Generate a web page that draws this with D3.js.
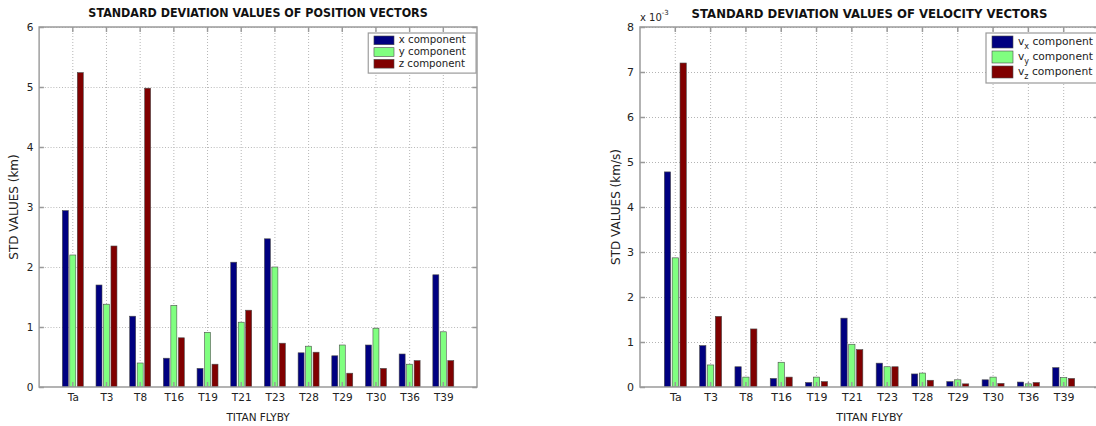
<!DOCTYPE html>
<html>
<head>
<meta charset="utf-8">
<script src="https://cdn.jsdelivr.net/npm/d3@7"></script>
<style>
  html, body { margin: 0; padding: 0; background: #fff; }
  svg { display: block; font-family: "DejaVu Sans", Verdana, sans-serif; }
</style>
</head>
<body>
<svg id="fig" width="1096" height="426"></svg>
<script>
// Titan flybys
const flybys = ["Ta", "T3", "T8", "T16", "T19", "T21", "T23", "T28", "T29", "T30", "T36", "T39"];

// Standard deviation of position components (km)
const posX = [2.94, 1.70, 1.18, 0.48, 0.31, 2.08, 2.47, 0.57, 0.52, 0.70, 0.55, 1.87];
const posY = [2.20, 1.38, 0.40, 1.36, 0.91, 1.08, 2.00, 0.68, 0.70, 0.98, 0.38, 0.92];
const posZ = [5.24, 2.35, 4.98, 0.82, 0.38, 1.28, 0.73, 0.58, 0.23, 0.31, 0.44, 0.44];

// Standard deviation of velocity components (km/s)
const velX = [4.78e-3, 0.92e-3, 0.45e-3, 0.19e-3, 0.10e-3, 1.53e-3, 0.53e-3, 0.29e-3, 0.12e-3, 0.16e-3, 0.11e-3, 0.43e-3];
const velY = [2.87e-3, 0.49e-3, 0.22e-3, 0.55e-3, 0.22e-3, 0.95e-3, 0.45e-3, 0.31e-3, 0.16e-3, 0.22e-3, 0.07e-3, 0.21e-3];
const velZ = [7.20e-3, 1.57e-3, 1.29e-3, 0.22e-3, 0.12e-3, 0.83e-3, 0.45e-3, 0.15e-3, 0.07e-3, 0.08e-3, 0.10e-3, 0.19e-3];

// Axis ticks
const posTicks = [0, 1, 2, 3, 4, 5, 6];
const velTicks = [0, 1e-3, 2e-3, 3e-3, 4e-3, 5e-3, 6e-3, 7e-3, 8e-3];

const seriesColors = ["#000080", "#80ff80", "#800000"];

const svg = d3.select("#fig");

function drawPanel(opt) {
  // each panel is laid out at the same nominal size; hScale narrows the left one
  const g = svg.append("g").attr("transform", `scale(${opt.hScale},1)`);
  const x = d3.scaleLinear().domain([0, flybys.length + 1]).range([opt.left, opt.right]);
  const y = d3.scaleLinear().domain(opt.yDomain).range([opt.bottom, opt.top]);

  const clipId = "clip" + opt.id;
  g.append("clipPath").attr("id", clipId)
    .append("rect").attr("x", opt.left).attr("y", opt.top)
    .attr("width", opt.right - opt.left).attr("height", opt.bottom - opt.top);

  // grid
  const grid = g.append("g").attr("clip-path", `url(#${clipId})`)
    .attr("stroke", "#b4b4b4").attr("stroke-width", 1).attr("stroke-dasharray", "1,2");
  flybys.forEach((d, i) => {
    const xi = x(i + 1);
    grid.append("line").attr("x1", xi).attr("x2", xi)
      .attr("y1", opt.top).attr("y2", opt.bottom);
  });
  opt.ticks.forEach(t => {
    grid.append("line").attr("x1", opt.left).attr("x2", opt.right)
      .attr("y1", Math.round(y(t)) + 0.5).attr("y2", Math.round(y(t)) + 0.5);
  });

  // grouped bars
  const groupStep = 0.2222;
  const barW = 0.178;
  const bars = g.append("g").attr("clip-path", `url(#${clipId})`);
  opt.series.forEach((vals, s) => {
    bars.selectAll(null).data(vals).join("rect")
      .attr("x", (v, i) => x(i + 1 + (s - 1) * groupStep - barW / 2))
      .attr("width", x(barW) - x(0))
      .attr("y", v => y(v))
      .attr("height", v => y(0) - y(v))
      .attr("fill", seriesColors[s])
      .attr("stroke", "#4a4a4a").attr("stroke-width", 0.6);
  });

  // axes frame and tick marks
  const axisColor = "#9a9a9a";
  const frame = g.append("g").attr("stroke", axisColor).attr("stroke-width", 1.5).attr("fill", "none");
  frame.append("rect").attr("x", opt.left).attr("y", opt.top)
    .attr("width", opt.right - opt.left).attr("height", opt.bottom - opt.top);
  const tickLen = 5;
  flybys.forEach((d, i) => {
    const xi = x(i + 1);
    frame.append("line").attr("x1", xi).attr("x2", xi).attr("y1", opt.bottom).attr("y2", opt.bottom - tickLen);
    frame.append("line").attr("x1", xi).attr("x2", xi).attr("y1", opt.top).attr("y2", opt.top + tickLen);
  });
  opt.ticks.forEach(t => {
    const yi = Math.round(y(t)) + 0.5;
    frame.append("line").attr("x1", opt.left).attr("x2", opt.left + tickLen).attr("y1", yi).attr("y2", yi);
    frame.append("line").attr("x1", opt.right).attr("x2", opt.right - tickLen).attr("y1", yi).attr("y2", yi);
  });

  // tick labels
  const xAxis = d3.axisBottom(x).tickValues(flybys.map((d, i) => i + 1))
    .tickFormat(v => flybys[v - 1]).tickSize(0).tickPadding(6);
  const xa = g.append("g").attr("transform", `translate(0,${opt.bottom})`).call(xAxis);
  xa.select(".domain").remove();
  xa.selectAll("text").attr("font-size", 11).attr("fill", "#222").attr("font-family", "DejaVu Sans, sans-serif");

  const yAxis = d3.axisLeft(y).tickValues(opt.ticks).tickFormat(opt.tickFormat).tickSize(0).tickPadding(6);
  const ya = g.append("g").attr("transform", `translate(${opt.left},0)`).call(yAxis);
  ya.select(".domain").remove();
  ya.selectAll("text").attr("font-size", 11).attr("fill", "#222").attr("font-family", "DejaVu Sans, sans-serif");

  // titles
  g.append("text").attr("x", (opt.left + opt.right) / 2).attr("y", 17.5)
    .attr("text-anchor", "middle").attr("font-weight", "bold").attr("font-size", 11.7)
    .attr("fill", "#111").text(opt.title);
  g.append("text").attr("x", (opt.left + opt.right) / 2).attr("y", 421)
    .attr("text-anchor", "middle").attr("font-size", 11).attr("fill", "#222").text("TITAN FLYBY");
  g.append("text").attr("transform", `translate(${opt.left - opt.yLabelOffset},${(opt.top + opt.bottom) / 2}) rotate(-90)`)
    .attr("text-anchor", "middle").attr("dy", "0.35em").attr("font-size", 12).attr("fill", "#222").text(opt.yLabel);

  if (opt.exponent) {
    const ex = g.append("text").attr("x", opt.left).attr("y", 21).attr("font-size", 10).attr("fill", "#222");
    ex.append("tspan").text("x 10");
    ex.append("tspan").attr("dy", -6).attr("font-size", 7).text(opt.exponent);
  }

  // legend
  const lg = g.append("g");
  const lx0 = opt.right - opt.legendW - opt.legendGap;
  lg.append("rect").attr("x", lx0).attr("y", opt.top + 6)
    .attr("width", opt.legendW).attr("height", opt.legendRow * 3 + 5)
    .attr("fill", "#fff").attr("stroke", axisColor).attr("stroke-width", 1.2);
  opt.legend.forEach((lab, s) => {
    const ly = opt.top + 9 + s * opt.legendRow;
    const lx = lx0 + 6;
    lg.append("rect").attr("x", lx).attr("y", ly).attr("width", 21).attr("height", opt.legendRow - 3)
      .attr("fill", seriesColors[s]).attr("stroke", "#4a4a4a").attr("stroke-width", 0.6);
    const t = lg.append("text").attr("x", lx + 26).attr("y", ly + opt.legendRow - 4.5)
      .attr("font-size", 10.7).attr("fill", "#222");
    if (lab.sub) {
      t.attr("y", ly + opt.legendRow - 6.5);
      t.append("tspan").text(lab.main);
      t.append("tspan").attr("dy", 4).attr("font-size", 8).text(lab.sub);
      t.append("tspan").attr("dy", -4).text(" " + lab.rest);
    } else {
      t.text(lab.main + " " + lab.rest);
    }
  });
}

drawPanel({
  id: "pos", hScale: 0.954, left: 41, right: 500, top: 27, bottom: 387,
  yDomain: [0, 6], ticks: posTicks, tickFormat: d3.format("d"),
  series: [posX, posY, posZ],
  title: "STANDARD DEVIATION VALUES OF POSITION VECTORS",
  yLabel: "STD VALUES (km)", yLabelOffset: 26,
  legend: [{main: "x", rest: "component"}, {main: "y", rest: "component"}, {main: "z", rest: "component"}],
  legendW: 113, legendGap: 1, legendRow: 11.7
});

drawPanel({
  id: "vel", hScale: 1, left: 640, right: 1099, top: 27, bottom: 387,
  yDomain: [0, 8e-3], ticks: velTicks, tickFormat: v => d3.format("d")(Math.round(v * 1000)),
  series: [velX, velY, velZ],
  title: "STANDARD DEVIATION VALUES OF VELOCITY VECTORS",
  yLabel: "STD VALUES (km/s)", yLabelOffset: 24,
  exponent: "-3",
  legend: [{main: "v", sub: "x", rest: "component"}, {main: "v", sub: "y", rest: "component"}, {main: "v", sub: "z", rest: "component"}],
  legendW: 111, legendGap: 2, legendRow: 15
});
</script>
</body>
</html>
